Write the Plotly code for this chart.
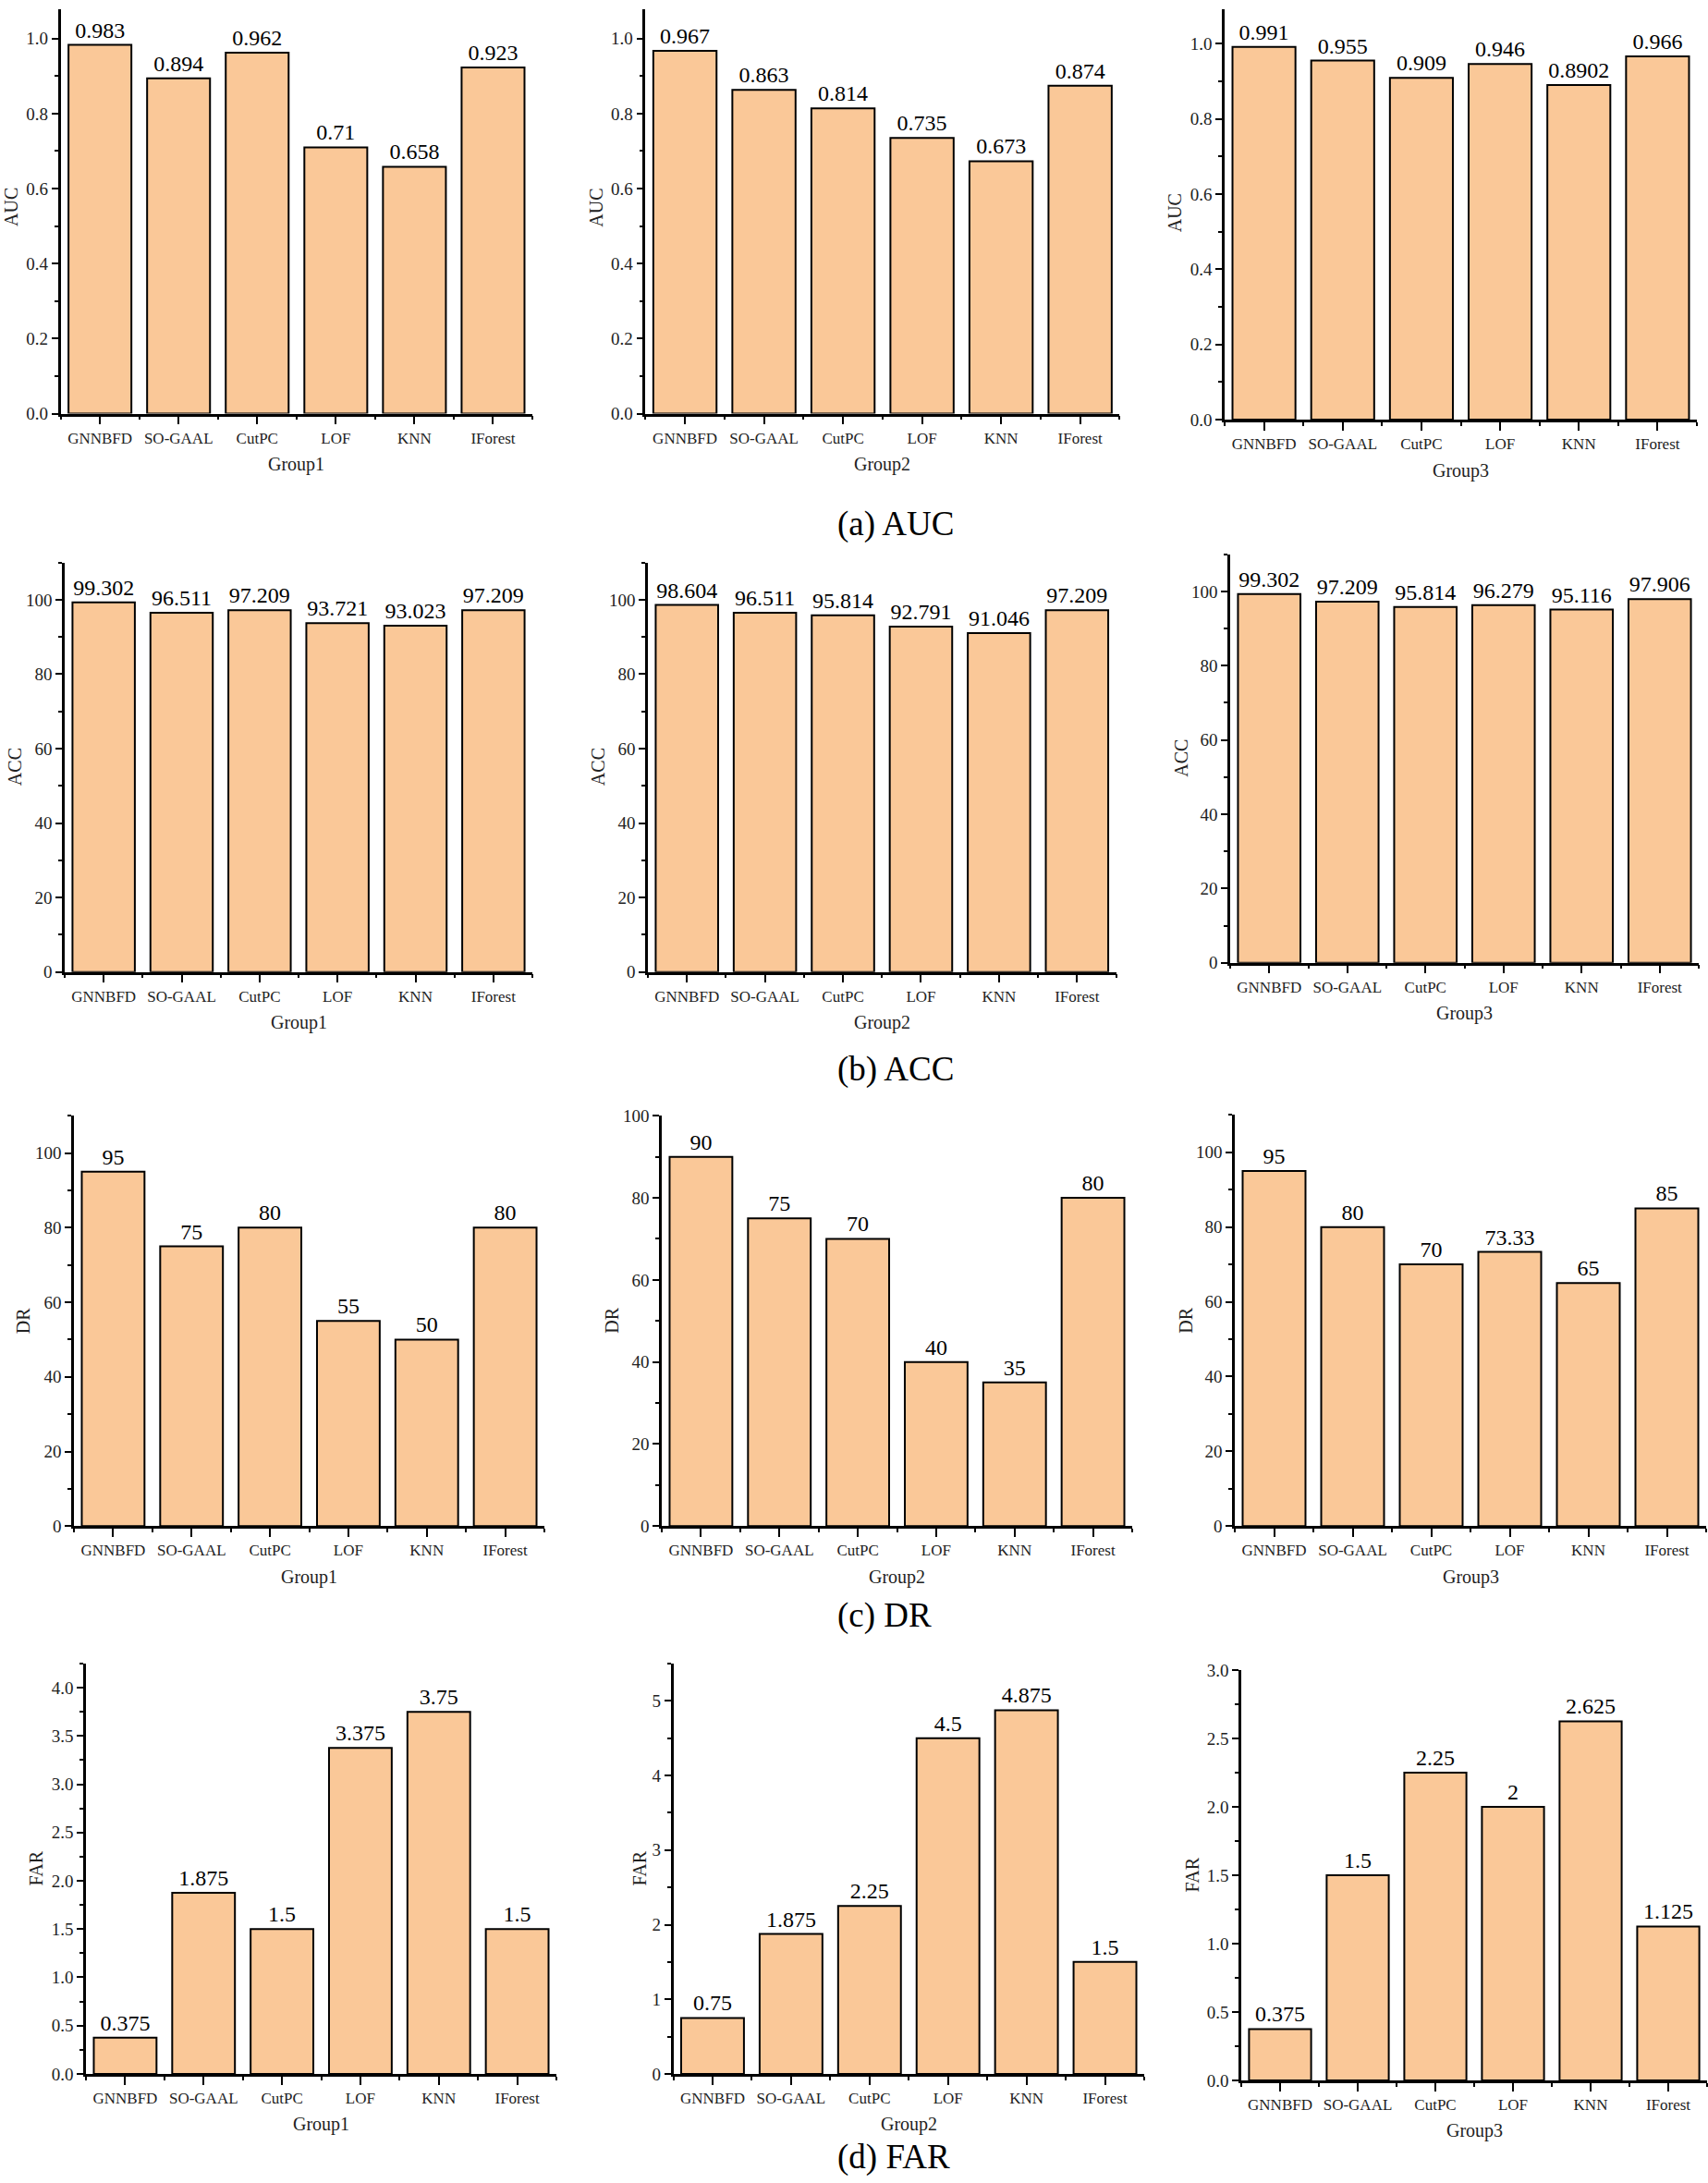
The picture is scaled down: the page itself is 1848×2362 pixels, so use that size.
import plotly.graph_objects as go

# ---------------- data ----------------
methods = ["GNNBFD", "SO-GAAL", "CutPC", "LOF", "KNN", "IForest"]
groups = ["Group1", "Group2", "Group3"]

auc_g1 = [0.983, 0.894, 0.962, 0.71, 0.658, 0.923]
auc_g2 = [0.967, 0.863, 0.814, 0.735, 0.673, 0.874]
auc_g3 = [0.991, 0.955, 0.909, 0.946, 0.8902, 0.966]

acc_g1 = [99.302, 96.511, 97.209, 93.721, 93.023, 97.209]
acc_g2 = [98.604, 96.511, 95.814, 92.791, 91.046, 97.209]
acc_g3 = [99.302, 97.209, 95.814, 96.279, 95.116, 97.906]

dr_g1 = [95, 75, 80, 55, 50, 80]
dr_g2 = [90, 75, 70, 40, 35, 80]
dr_g3 = [95, 80, 70, 73.33, 65, 85]

far_g1 = [0.375, 1.875, 1.5, 3.375, 3.75, 1.5]
far_g2 = [0.75, 1.875, 2.25, 4.5, 4.875, 1.5]
far_g3 = [0.375, 1.5, 2.25, 2, 2.625, 1.125]

captions = ["(a) AUC", "(b) ACC", "(c) DR", "(d) FAR"]
metrics = ["AUC", "ACC", "DR", "FAR"]

# ---------------- layout / style ----------------
W, H = 1848, 2362
FONT = "'Liberation Serif', 'Times New Roman', 'DejaVu Serif', serif"
BAR_COLOR = "#FAC898"

# per panel: metric index, group index, values, y max, major dtick, minor dtick, tick format,
# plot box in pixels (x0, x1, ytop, ybottom), y-title shift
panels = [
    (0, 0, auc_g1, 1.1, 0.2, 0.1, ".1f", (65.6, 576, -9, 441.5), -53),
    (0, 1, auc_g2, 1.1, 0.2, 0.1, ".1f", (698.3, 1211.4, -9, 441.5), -53),
    (0, 2, auc_g3, 1.1, 0.2, 0.1, ".1f", (1325, 1836, -3.5, 448), -54),
    (1, 0, acc_g1, 110, 20, 10, "d", (70, 576, 604, 1051), -54),
    (1, 1, acc_g2, 110, 20, 10, "d", (701, 1207.5, 604, 1051), -54),
    (1, 2, acc_g3, 110, 20, 10, "d", (1331, 1838, 595, 1041), -53),
    (2, 0, dr_g1, 110, 20, 10, "d", (80, 589, 1208, 1656), -55),
    (2, 1, dr_g2, 100, 20, 10, "d", (716, 1225, 1208, 1656), -53.5),
    (2, 2, dr_g3, 110, 20, 10, "d", (1336, 1846, 1207, 1656), -53),
    (3, 0, far_g1, 4.25, 0.5, 0.25, ".1f", (93, 602, 1806, 2254), -54.5),
    (3, 1, far_g2, 5.5, 1, 0.5, "d", (728.5, 1238, 1806, 2254), -37),
    (3, 2, far_g3, 3.0, 0.5, 0.25, ".1f", (1343, 1847, 1813, 2261), -53.5),
]
caption_y = [562, 1157, 1754, 2345]

fig = go.Figure()
layout = dict(
    width=W, height=H,
    margin=dict(l=0, r=0, t=0, b=0),
    paper_bgcolor="white", plot_bgcolor="white",
    showlegend=False,
    font=dict(family=FONT, color="#222222"),
)
annotations = []

xpos = list(range(len(methods)))
for i, (mi, gi, vals, ymax, dt, mdt, fmt, box, yshift) in enumerate(panels):
    n = i + 1
    xa = "x" if n == 1 else f"x{n}"
    ya = "y" if n == 1 else f"y{n}"
    xkey = "xaxis" if n == 1 else f"xaxis{n}"
    ykey = "yaxis" if n == 1 else f"yaxis{n}"
    x0, x1, yt, yb = box
    # if the axis runs past the top of the figure, clip it there and keep the scale
    yt_c = max(yt, 0)
    ymax_eff = ymax * (yb - yt_c) / (yb - yt)

    fig.add_trace(go.Bar(
        x=xpos, y=vals, width=0.8,
        marker=dict(color=BAR_COLOR, line=dict(color="black", width=2)),
        text=[str(v) for v in vals],
        textposition="outside",
        textfont=dict(family=FONT, size=24, color="black"),
        constraintext="none",
        cliponaxis=False,
        xaxis=xa, yaxis=ya,
        hoverinfo="skip",
    ))

    layout[xkey] = dict(
        domain=[x0 / W, x1 / W], anchor=ya,
        type="linear", range=[-0.5, len(methods) - 0.5],
        tickmode="array", tickvals=xpos, ticktext=methods,
        ticks="outside", ticklen=9, tickwidth=2, tickcolor="black",
        ticklabelstandoff=0,
        tickfont=dict(family=FONT, size=17, color="#222222"),
        minor=dict(tickmode="array", tickvals=[k - 0.5 for k in range(len(methods) + 1)],
                   ticks="outside", ticklen=4, tickwidth=2, tickcolor="black"),
        showline=True, linewidth=2.5, linecolor="black",
        showgrid=False, zeroline=False, fixedrange=True,
    )
    layout[ykey] = dict(
        domain=[1 - yb / H, 1 - yt_c / H], anchor=xa,
        range=[0, ymax_eff], tick0=0, dtick=dt, tickformat=fmt,
        ticks="outside", ticklen=7, tickwidth=2, tickcolor="black",
        ticklabelstandoff=0,
        tickfont=dict(family=FONT, size=19, color="#222222"),
        minor=dict(tick0=0, dtick=mdt, ticks="outside", ticklen=4, tickwidth=2, tickcolor="black"),
        showline=True, linewidth=2.5, linecolor="black",
        showgrid=False, zeroline=False, fixedrange=True,
    )
    # y axis title
    annotations.append(dict(
        text=metrics[mi], xref=f"{xa} domain", yref=f"{ya} domain",
        x=0, y=(yb - (yt + yb) / 2) / (yb - yt_c), xshift=yshift,
        xanchor="center", yanchor="middle",
        textangle=-90, showarrow=False,
        font=dict(family=FONT, size=20, color="#222222"),
    ))
    # x axis title
    annotations.append(dict(
        text=groups[gi], xref=f"{xa} domain", yref=f"{ya} domain",
        x=0.5, y=0, yshift=-55, xanchor="center", yanchor="middle",
        showarrow=False,
        font=dict(family=FONT, size=20, color="#222222"),
    ))

for cap, cy in zip(captions, caption_y):
    annotations.append(dict(
        text=cap, xref="paper", yref="paper",
        x=904 / W, y=1 - cy / H, xanchor="left", yanchor="middle",
        showarrow=False, font=dict(family=FONT, size=37, color="black"),
    ))

layout["annotations"] = annotations
fig.update_layout(**layout)
fig.write_html(
    "out.html",
    config={"displayModeBar": False},
    post_script="document.body.style.margin='0';document.body.style.padding='0';",
)
